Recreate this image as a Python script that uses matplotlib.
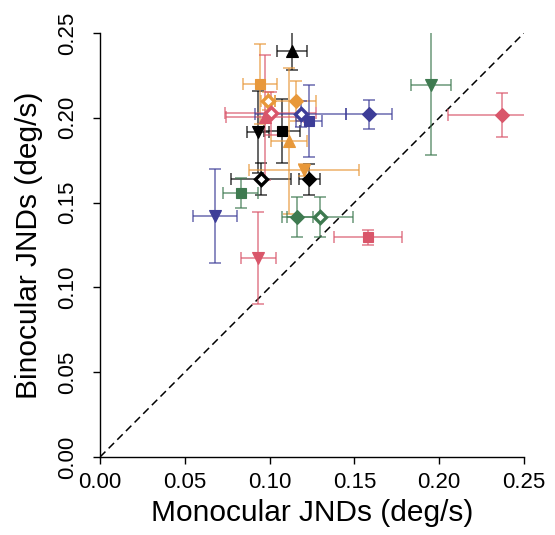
import matplotlib
matplotlib.use("Agg")
import matplotlib.pyplot as plt
import numpy as np

plt.rcParams['font.family'] = ['Liberation Sans', 'DejaVu Sans']

# subject colour groups and conditions (marker shapes)
subject = ['k', 'k', 'k', 'k', 'k',
           'o', 'o', 'o', 'o', 'o',
           'r', 'r', 'r', 'r', 'r',
           'b', 'b', 'b', 'b',
           'g', 'g', 'g', 'g']
condition = ['tri_up', 'square', 'tri_down', 'open_diamond', 'diamond',
             'square', 'open_diamond', 'diamond', 'tri_up', 'tri_down',
             'diamond', 'square', 'tri_down', 'tri_up', 'open_diamond',
             'diamond', 'square', 'open_diamond', 'tri_down',
             'tri_down', 'square', 'diamond', 'open_diamond']

monocular = [0.1132, 0.1073, 0.0932, 0.0949, 0.1234,
             0.0943, 0.0989, 0.1154, 0.1114, 0.1205,
             0.2368, 0.1582, 0.0933, 0.0973, 0.1006,
             0.1586, 0.1234, 0.1183, 0.0678,
             0.1950, 0.0831, 0.1163, 0.1297]
binocular = [0.2394, 0.1922, 0.1916, 0.1639, 0.1637,
             0.2199, 0.2099, 0.2099, 0.1863, 0.1692,
             0.2017, 0.1295, 0.1175, 0.2003, 0.2026,
             0.2021, 0.1983, 0.2021, 0.1423,
             0.2193, 0.1558, 0.1417, 0.1417]
monocular_err = [0.0091, 0.0106, 0.0065, 0.0177, 0.0062,
                 0.0098, 0.0040, 0.0120, 0.0108, 0.0324,
                 0.0315, 0.0200, 0.0103, 0.0230, 0.0270,
                 0.0133, 0.0077, 0.0268, 0.0128,
                 0.0118, 0.0103, 0.0092, 0.0195]
binocular_err = [0.0110, 0.0190, 0.0240, 0.0094, 0.0093,
                 0.0236, 0.0055, 0.0120, 0.0430, 0.0035,
                 0.0130, 0.0044, 0.0270, 0.0370, 0.0126,
                 0.0085, 0.0212, 0.0077, 0.0277,
                 0.0410, 0.0087, 0.0118, 0.0118]

ticks = [0.00, 0.05, 0.10, 0.15, 0.20, 0.25]
tick_labels = ['0.00', '0.05', '0.10', '0.15', '0.20', '0.25']

colors = {'k': '#000000', 'o': '#E8983A', 'r': '#D9566A', 'b': '#3D3D98', 'g': '#3E7A50'}
markers = {'tri_up': '^', 'tri_down': 'v', 'square': 's', 'diamond': 'D', 'open_diamond': 'D'}
msizes = {'tri_up': 9, 'tri_down': 9, 'square': 7.5, 'diamond': 6.8, 'open_diamond': 5.8}

fig = plt.figure(figsize=(5.55, 5.35), dpi=100)
ax = fig.add_axes([100/555, 78/535, 424/555, 424/535])

ax.plot([0, 0.25], [0, 0.25], color='black', lw=1.1, ls=(0, (5, 3)), zorder=1)

for x, y, xe, ye, s in zip(monocular, binocular, monocular_err, binocular_err, subject):
    ax.errorbar(x, y, xerr=xe, yerr=ye, fmt='none', ecolor=colors[s], alpha=0.65,
                elinewidth=1.3, capsize=4.5, capthick=1.3, zorder=2)

for x, y, s, c in zip(monocular, binocular, subject, condition):
    col = colors[s]
    if c == 'open_diamond':
        ax.plot(x, y, marker='D', ms=msizes[c], mfc='white', mec=col, mew=2.4,
                ls='none', zorder=3)
    else:
        ax.plot(x, y, marker=markers[c], ms=msizes[c], mfc=col, mec=col, mew=0.8,
                ls='none', zorder=3)

ax.set_xlim(0, 0.25)
ax.set_ylim(0, 0.25)
ax.set_xticks(ticks)
ax.set_xticklabels(tick_labels)
ax.set_yticks(ticks)
ax.set_yticklabels(tick_labels, rotation=90, va='center')
for sp in ['top', 'right']:
    ax.spines[sp].set_visible(False)
for sp in ['left', 'bottom']:
    ax.spines[sp].set_linewidth(1.0)
ax.tick_params(direction='out', length=5, width=1.0, labelsize=16)
ax.tick_params(axis='x', pad=6)
ax.tick_params(axis='y', pad=11)
ax.set_xlabel('Monocular JNDs (deg/s)', fontsize=21.5)
ax.set_ylabel('Binocular JNDs (deg/s)', fontsize=21.5)
ax.xaxis.set_label_coords(0.5, -0.10)
ax.yaxis.set_label_coords(-0.135, 0.5)

fig.savefig('out.png', dpi=100)
